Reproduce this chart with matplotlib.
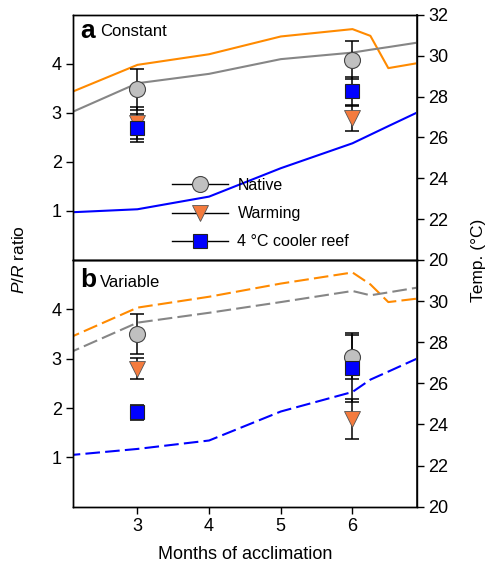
import matplotlib.pyplot as plt
from matplotlib.lines import Line2D

plt.rcParams['font.family'] = ['Liberation Sans', 'DejaVu Sans']
plt.rcParams['mathtext.fontset'] = 'custom'
plt.rcParams['mathtext.it'] = 'Liberation Sans:italic'
plt.rcParams['mathtext.rm'] = 'Liberation Sans'

# P/R ratio, sampled at 3 and 6 months
months = [3, 6]

native_const = [3.48, 4.08]
native_const_err = [0.42, 0.38]
warm_const = [2.79, 2.90]
warm_const_err = [0.32, 0.26]
cool_const = [2.69, 3.44]
cool_const_err = [0.28, 0.30]

native_var = [3.50, 3.03]
native_var_err = [0.40, 0.44]
warm_var = [2.80, 1.78]
warm_var_err = [0.22, 0.41]
cool_var = [1.91, 2.82]
cool_var_err = [0.16, 0.69]

# temperature profiles (right axis)
temp_months = [2, 3, 4, 5, 6, 6.25, 6.5, 7]

t_warm_const = [28.10, 29.55, 30.07, 30.94, 31.30, 30.97, 29.39, 29.69]
t_native_const = [27.10, 28.65, 29.11, 29.83, 30.15, 30.29, 30.42, 30.69]
t_cool_const = [22.32, 22.48, 23.10, 24.49, 25.71, 26.13, 26.55, 27.38]

t_warm_var = [28.14, 29.68, 30.21, 30.85, 31.39, 30.81, 29.95, 30.16]
t_native_var = [27.41, 28.95, 29.43, 29.95, 30.49, 30.28, 30.42, 30.71]
t_cool_var = [22.49, 22.81, 23.22, 24.63, 25.58, 26.18, 26.57, 27.36]

ORANGE = '#ff8a00'
CORAL = '#f47b3e'
GREY = '#868686'
LIGHTGREY = '#c0c0c0'
BLUE = '#0000ff'

fig = plt.figure(figsize=(4.86, 5.70), dpi=100)
ax_a = fig.add_axes([0.150, 0.544, 0.708, 0.430])
ax_b = fig.add_axes([0.150, 0.111, 0.708, 0.433])


def draw_panel(ax, native, native_err, warm, warm_err, cool, cool_err,
               t_native, t_warm, t_cool, ls):
    tw = ax.twinx()
    tw.plot(temp_months, t_warm, color=ORANGE, lw=1.5, ls=ls)
    tw.plot(temp_months, t_native, color=GREY, lw=1.5, ls=ls)
    tw.plot(temp_months, t_cool, color=BLUE, lw=1.5, ls=ls)
    tw.set_ylim(20, 32)
    ax.set_zorder(tw.get_zorder() + 1)
    ax.patch.set_visible(False)

    # error bars first, markers on top
    for y, e in [(native, native_err), (warm, warm_err), (cool, cool_err)]:
        ax.errorbar(months, y, yerr=e, fmt='none', ecolor='black',
                    elinewidth=1.1, capsize=4.8, capthick=1.1, zorder=2)
    ax.plot(months, native, 'o', ms=11.5, mfc=LIGHTGREY, mec='#444444',
            mew=0.8, zorder=3)
    ax.plot(months, warm, 'v', ms=12, mfc=CORAL, mec='#555555',
            mew=0.6, zorder=4)
    ax.plot(months, cool, 's', ms=10.5, mfc=BLUE, mec='#222222',
            mew=0.8, zorder=5)

    ax.set_xlim(2.1, 6.9)
    ax.set_ylim(0, 5)
    ax.set_yticks([1, 2, 3, 4])
    ax.set_xticks([3, 4, 5, 6])
    ax.tick_params(axis='both', direction='out', length=5, width=1,
                   labelsize=13, pad=3)
    tw.tick_params(axis='y', direction='out', length=5, width=1,
                   labelsize=13, pad=3)
    for s in ax.spines.values():
        s.set_linewidth(1)
    for s in tw.spines.values():
        s.set_linewidth(1)
    tw.spines['right'].set_linewidth(1.4)
    tw.spines['right'].set_color('#333333')
    return tw


tw_a = draw_panel(ax_a, native_const, native_const_err, warm_const,
                  warm_const_err, cool_const, cool_const_err,
                  t_native_const, t_warm_const, t_cool_const, '-')
tw_b = draw_panel(ax_b, native_var, native_var_err, warm_var, warm_var_err,
                  cool_var, cool_var_err, t_native_var, t_warm_var,
                  t_cool_var, (0, (7, 2.5)))

ax_a.tick_params(axis='x', bottom=False, labelbottom=False)
tw_a.set_yticks([20, 22, 24, 26, 28, 30, 32])
tw_b.set_yticks([20, 22, 24, 26, 28, 30])

# panel titles
ax_a.text(0.022, 0.935, 'a', transform=ax_a.transAxes, fontsize=19,
          fontweight='bold', va='center', ha='left')
ax_a.text(0.078, 0.93, 'Constant', transform=ax_a.transAxes, fontsize=12,
          va='center', ha='left')
ax_b.text(0.022, 0.92, 'b', transform=ax_b.transAxes, fontsize=19,
          fontweight='bold', va='center', ha='left')
ax_b.text(0.078, 0.91, 'Variable', transform=ax_b.transAxes, fontsize=12,
          va='center', ha='left')

handles = [
    Line2D([], [], color='black', lw=1, marker='o', ms=11.5,
           mfc=LIGHTGREY, mec='#444444', mew=0.8),
    Line2D([], [], color='black', lw=1, marker='v', ms=12,
           mfc=CORAL, mec='#555555', mew=0.6),
    Line2D([], [], color='black', lw=1, marker='s', ms=10.5,
           mfc=BLUE, mec='#222222', mew=0.8),
]
ax_a.legend(handles, ['Native', 'Warming', '4 \u00b0C cooler reef'],
            loc='upper left', bbox_to_anchor=(0.288, 0.334), frameon=False,
            fontsize=11.5, handlelength=3.5, handletextpad=0.6,
            labelspacing=0.82, borderpad=0, borderaxespad=0)

ax_b.set_xlabel('Months of acclimation', fontsize=13, labelpad=8)
fig.text(0.039, 0.544, '$P/R$ ratio', rotation=90, fontsize=12.5,
         va='center', ha='center')
fig.text(0.984, 0.544, 'Temp. (\u00b0C)', rotation=90, fontsize=12.5,
         va='center', ha='center')

fig.savefig('out.png', dpi=100)
